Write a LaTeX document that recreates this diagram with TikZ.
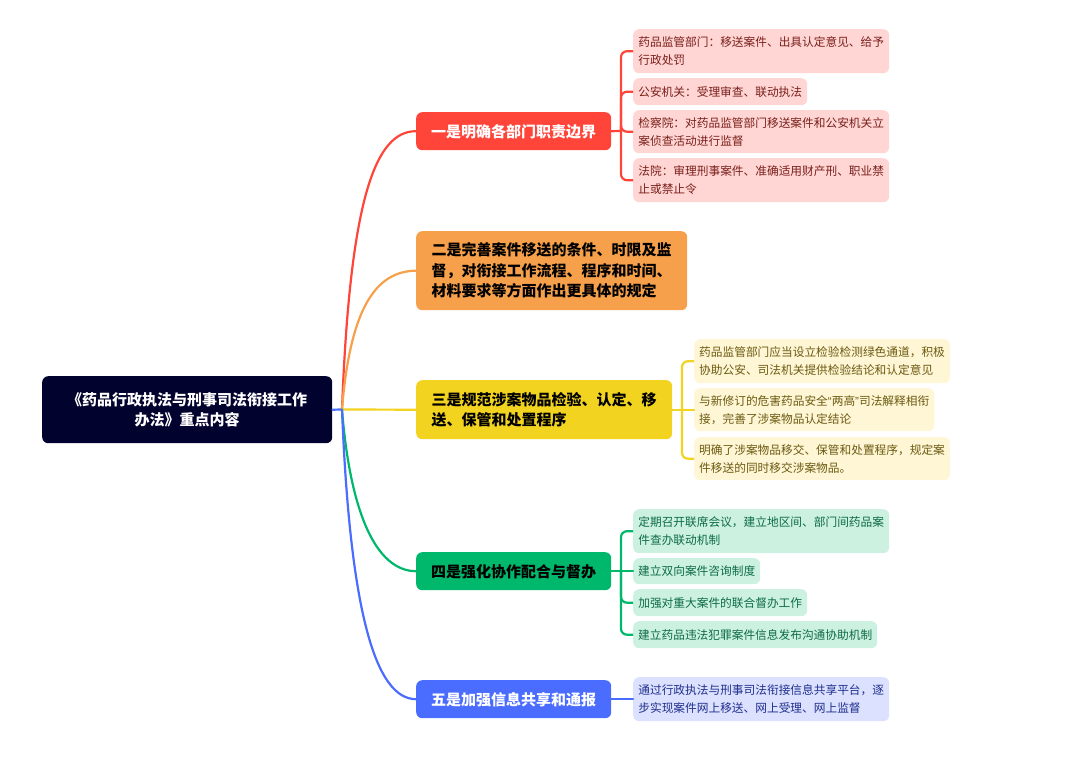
\documentclass[tikz,border=0pt]{standalone}
\usepackage{fontspec}
\setmainfont{Noto Sans CJK SC}
\newfontfamily\quotefont{Liberation Sans}
\definecolor{cRed}{HTML}{FF453A}
\definecolor{cOrange}{HTML}{F7A04B}
\definecolor{cYellow}{HTML}{F2D31F}
\definecolor{cGreen}{HTML}{00B86B}
\definecolor{cBlue}{HTML}{4A6CFF}
\definecolor{cRoot}{HTML}{02022E}
\definecolor{sRed}{HTML}{FFD6D4}
\definecolor{sYellow}{HTML}{FFF6D6}
\definecolor{sGreen}{HTML}{CDF1E1}
\definecolor{sBlue}{HTML}{DCE1FF}
\definecolor{tRed}{HTML}{7A1F1A}
\definecolor{tYellow}{HTML}{6B5A10}
\definecolor{tGreen}{HTML}{0B6B45}
\definecolor{tBlue}{HTML}{1F2F8C}
\tikzset{
  x=1pt,y=-1pt,
  boxbase/.style={anchor=north west,rounded corners=6pt,inner ysep=0pt,align=left},
  topicbox/.style={boxbase,inner xsep=15pt,font=\fontsize{15}{20.5}\selectfont\bfseries,execute at begin node={\rule{0pt}{15pt}}},
  subbox/.style={boxbase,inner xsep=5pt,font=\fontsize{11.7}{18}\selectfont},
  link/.style={line width=2.2pt,line cap=round},
  bendlink/.style={line width=2.2pt,rounded corners=6pt},
}
\begin{document}
\begin{tikzpicture}
\useasboundingbox (0,0) rectangle (1080,756);
% root
\node[anchor=north west,fill=cRoot,text=white,rounded corners=6pt,minimum width=290pt,minimum height=67pt,inner sep=0pt,align=center,font=\fontsize{15}{20.5}\selectfont\bfseries,execute at begin node={\rule{0pt}{15pt}}] (root) at (42,376) {《药品行政执法与刑事司法衔接工作\\办法》重点内容};
\coordinate (hub) at (342,409.5);
% topics
\node[topicbox,fill=cRed,text=white,minimum width=195pt,minimum height=38pt] (t1) at (416,112) {一是明确各部门职责边界};
\node[topicbox,fill=cOrange,text=black,minimum width=271pt,minimum height=79pt] (t2) at (416,231) {二是完善案件移送的条件、时限及监\\督，对衔接工作流程、程序和时间、\\材料要求等方面作出更具体的规定};
\node[topicbox,fill=cYellow,text=black,minimum width=256pt,minimum height=59pt] (t3) at (416,380) {三是规范涉案物品检验、认定、移\\送、保管和处置程序};
\node[topicbox,fill=cGreen,text=black,minimum width=195pt,minimum height=38pt] (t4) at (416,552) {四是强化协作配合与督办};
\node[topicbox,fill=cBlue,text=white,minimum width=195pt,minimum height=38pt] (t5) at (416,680) {五是加强信息共享和通报};
% red subs
\begin{scope}[every node/.append style={subbox,fill=sRed,text=tRed}]
\node[minimum width=256pt,minimum height=44pt] (r1) at (633,29) {药品监管部门：移送案件、出具认定意见、给予\\行政处罚};
\node[minimum width=174pt,minimum height=27pt] (r2) at (633,78) {公安机关：受理审查、联动执法};
\node[minimum width=256pt,minimum height=43pt] (r3) at (633,110) {检察院：对药品监管部门移送案件和公安机关立\\案侦查活动进行监督};
\node[minimum width=256pt,minimum height=44pt] (r4) at (633,158) {法院：审理刑事案件、准确适用财产刑、职业禁\\止或禁止令};
\end{scope}
% yellow subs
\begin{scope}[every node/.append style={subbox,fill=sYellow,text=tYellow}]
\node[minimum width=255pt,minimum height=44pt] (y1) at (694,339) {药品监管部门应当设立检验检测绿色通道，积极\\协助公安、司法机关提供检验结论和认定意见};
\node[minimum width=240pt,minimum height=43pt] (y2) at (694,388) {与新修订的危害药品安全{\quotefont “}两高{\quotefont ”}司法解释相衔\\接，完善了涉案物品认定结论};
\node[minimum width=255pt,minimum height=43pt] (y3) at (694,437) {明确了涉案物品移交、保管和处置程序，规定案\\件移送的同时移交涉案物品。};
\end{scope}
% green subs
\begin{scope}[every node/.append style={subbox,fill=sGreen,text=tGreen}]
\node[minimum width=256pt,minimum height=44pt] (g1) at (633,509) {定期召开联席会议，建立地区间、部门间药品案\\件查办联动机制};
\node[minimum width=127pt,minimum height=26pt] (g2) at (633,558) {建立双向案件咨询制度};
\node[minimum width=174pt,minimum height=27pt] (g3) at (633,589) {加强对重大案件的联合督办工作};
\node[minimum width=244pt,minimum height=27pt] (g4) at (633,621) {建立药品违法犯罪案件信息发布沟通协助机制};
\end{scope}
% blue sub
\node[subbox,fill=sBlue,text=tBlue,minimum width=256pt,minimum height=44pt] (b1) at (633,677) {通过行政执法与刑事司法衔接信息共享平台，逐\\步实现案件网上移送、网上受理、网上监督};
% main connectors
\draw[link,cBlue] (root.east) -- (hub);
\draw[link,cRed] (hub) .. controls (350,200) and (375,131) .. (t1.west);
\draw[link,cOrange] (hub) .. controls (350,310) and (375,271) .. (t2.west);
\draw[link,cYellow] (hub) -- (t3.west);
\draw[link,cGreen] (hub) .. controls (350,510) and (375,571) .. (t4.west);
\draw[link,cBlue] (hub) .. controls (350,610) and (375,699) .. (t5.west);
% sub connectors
\coordinate (rs) at (621,131);
\coordinate (ys) at (682,409.5);
\coordinate (gs) at (621,571);
\draw[link,cRed] (t1.east) -- (rs);
\draw[bendlink,cRed] (rs) |- (r1.west);
\draw[bendlink,cRed] (rs) |- (r2.west);
\draw[bendlink,cRed] (rs) |- (r3.west);
\draw[bendlink,cRed] (rs) |- (r4.west);
\draw[link,cYellow] (t3.east) -- (y2.west);
\draw[bendlink,cYellow] (ys) |- (y1.west);
\draw[bendlink,cYellow] (ys) |- (y3.west);
\draw[link,cGreen] (t4.east) -- (g2.west);
\draw[bendlink,cGreen] (gs) |- (g1.west);
\draw[bendlink,cGreen] (gs) |- (g3.west);
\draw[bendlink,cGreen] (gs) |- (g4.west);
\draw[link,cBlue] (t5.east) -- (b1.west);
\end{tikzpicture}
\end{document}
